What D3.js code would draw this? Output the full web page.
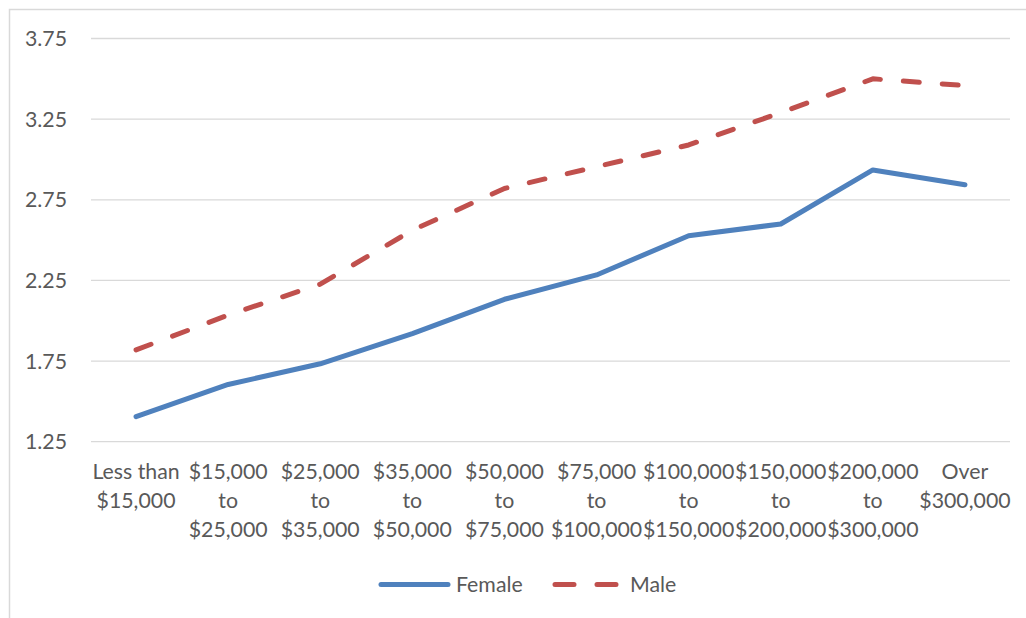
<!DOCTYPE html>
<meta charset="utf-8">
<html>
<head>
<title>Female vs Male by income</title>
<style>
    body { margin: 0; background: #fff; }
    text { font-family: Lato, "Open Sans", sans-serif; fill: #595959; font-size: 21.3px; }
    .grid line { stroke: #d9d9d9; stroke-width: 1.3px; }
</style>
<script src="https://cdn.jsdelivr.net/npm/d3@7"></script>
</head>
<body>
<script>

    var width = 1026, height = 618;

    // data
    var categories = ["Less than $15,000", "$15,000 to $25,000", "$25,000 to $35,000",
                      "$35,000 to $50,000", "$50,000 to $75,000", "$75,000 to $100,000",
                      "$100,000 to $150,000", "$150,000 to $200,000", "$200,000 to $300,000",
                      "Over $300,000"];
    var categoryLines = [["Less than", "$15,000"], ["$15,000", "to", "$25,000"], ["$25,000", "to", "$35,000"],
                         ["$35,000", "to", "$50,000"], ["$50,000", "to", "$75,000"], ["$75,000", "to", "$100,000"],
                         ["$100,000", "to", "$150,000"], ["$150,000", "to", "$200,000"], ["$200,000", "to", "$300,000"],
                         ["Over", "$300,000"]];
    var female = [1.405, 1.605, 1.733, 1.92, 2.133, 2.284, 2.527, 2.60, 2.935, 2.843];
    var male   = [1.819, 2.035, 2.227, 2.561, 2.82, 2.955, 3.09, 3.29, 3.50, 3.458];
    var yTicks = [1.25, 1.75, 2.25, 2.75, 3.25, 3.75];

    var svg = d3.select("body").append("svg")
        .attr("width", width)
        .attr("height", height);

    // chart frame (runs off the right and bottom)
    svg.append("rect")
        .attr("x", 9.5).attr("y", 9.5)
        .attr("width", 1030).attr("height", 620)
        .attr("fill", "none")
        .attr("stroke", "#d9d9d9")
        .attr("stroke-width", 1.5);

    var x = d3.scaleBand().domain(categories).range([90, 1011]);
    var y = d3.scaleLinear().domain([1.25, 3.75]).range([441.7, 38.5]);
    var cx = function(i) { return x(categories[i]) + x.bandwidth() / 2; };

    // gridlines
    svg.append("g").attr("class", "grid")
      .selectAll("line")
      .data(yTicks)
      .enter().append("line")
      .attr("x1", 91).attr("x2", 1010)
      .attr("y1", function(d) { return y(d); })
      .attr("y2", function(d) { return y(d); });

    // y labels
    svg.append("g")
      .selectAll("text")
      .data(yTicks)
      .enter().append("text")
      .attr("x", 67)
      .attr("y", function(d) { return y(d); })
      .attr("dy", "0.35em")
      .attr("text-anchor", "end")
      .text(function(d) { return d3.format(".2f")(d); });

    // category labels
    var cat = svg.append("g")
      .selectAll("text")
      .data(categoryLines)
      .enter().append("text")
      .attr("text-anchor", "middle");
    cat.selectAll("tspan")
      .data(function(d, i) { return d.map(function(s) { return {s: s, i: i}; }); })
      .enter().append("tspan")
      .attr("x", function(d) { return cx(d.i); })
      .attr("y", function(d, j) { return 479 + j * 29; })
      .text(function(d) { return d.s; });

    var line = d3.line()
      .x(function(d, i) { return cx(i); })
      .y(function(d) { return y(d); });

    svg.append("path")
      .datum(female)
      .attr("d", line)
      .attr("fill", "none")
      .attr("stroke", "#4f81bd")
      .attr("stroke-width", 5)
      .attr("stroke-linejoin", "round")
      .attr("stroke-linecap", "round");

    svg.append("path")
      .datum(male)
      .attr("d", line)
      .attr("fill", "none")
      .attr("stroke", "#c0504d")
      .attr("stroke-width", 5)
      .attr("stroke-linejoin", "round")
      .attr("stroke-linecap", "round")
      .attr("stroke-dasharray", "16,23");

    // legend
    var lg = svg.append("g");
    lg.append("line")
      .attr("x1", 381).attr("x2", 448).attr("y1", 584.5).attr("y2", 584.5)
      .attr("stroke", "#4f81bd").attr("stroke-width", 5).attr("stroke-linecap", "round");
    lg.append("text").attr("x", 456).attr("y", 584.5).attr("dy", "0.35em")
      .text("Female");
    lg.append("line")
      .attr("x1", 555).attr("x2", 616).attr("y1", 584.5).attr("y2", 584.5)
      .attr("stroke", "#c0504d").attr("stroke-width", 5).attr("stroke-linecap", "round")
      .attr("stroke-dasharray", "19,23");
    lg.append("text").attr("x", 630).attr("y", 584.5).attr("dy", "0.35em")
      .text("Male");

</script>
</body>
</html>
